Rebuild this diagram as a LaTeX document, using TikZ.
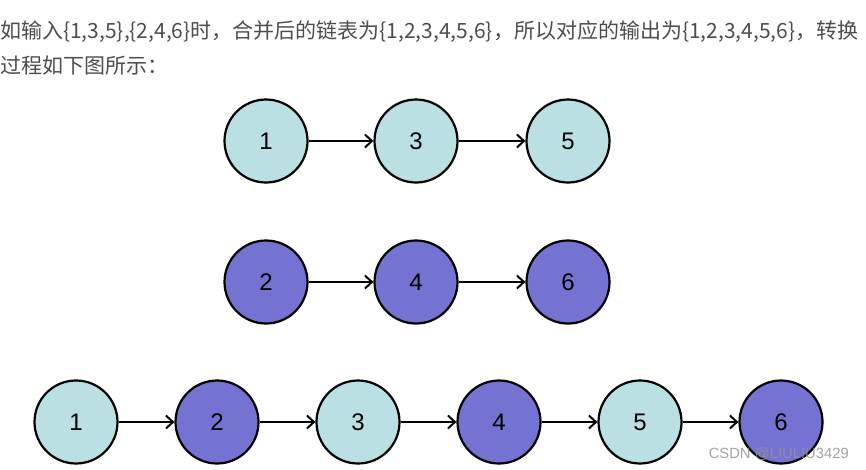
\documentclass[tikz,border=0pt]{standalone}
\usepackage{fontspec}
\setmainfont{Liberation Sans}
\newfontfamily\cjkfont{Noto Sans CJK SC}
\usetikzlibrary{arrows.meta}
\definecolor{lightc}{RGB}{186,224,227}
\definecolor{purp}{RGB}{117,115,209}
\definecolor{txtgray}{RGB}{77,77,77}
\tikzset{
  nodecirc/.style={circle,draw=black,line width=2.2pt,minimum size=83pt,inner sep=0pt,font=\fontsize{24}{28}\selectfont},
  cyanc/.style={nodecirc,fill=lightc},
  purc/.style={nodecirc,fill=purp},
  link/.style={line width=2pt,-{Straight Barb[length=7pt,width=13pt,line width=2pt]}},
  para/.style={anchor=base west,inner sep=0pt,text=txtgray,font=\cjkfont\fontsize{21}{24}\selectfont}
}
\begin{document}
\begin{tikzpicture}[x=1pt,y=-1pt]
\useasboundingbox (0,0) rectangle (866,469);
\node[para] (t1) at (0,38.5) {如输入\{1,3,5\},\{2,4,6\}时，合并后的链表为\{1,2,3,4,5,6\}，所以对应的输出为\{1,2,3,4,5,6\}，转换};
\node[para] (t2) at (0,73.5) {过程如下图所示：};
% row 1
\node[cyanc] (a1) at (266,141) {1};
\node[cyanc] (a3) at (416,141) {3};
\node[cyanc] (a5) at (568,141) {5};
\draw[link] (a1) -- (a3);
\draw[link] (a3) -- (a5);
% row 2
\node[purc] (b2) at (266,282) {2};
\node[purc] (b4) at (416,282) {4};
\node[purc] (b6) at (568,282) {6};
\draw[link] (b2) -- (b4);
\draw[link] (b4) -- (b6);
% row 3
\node[cyanc] (c1) at (76,422) {1};
\node[purc] (c2) at (217,422) {2};
\node[cyanc] (c3) at (358,422) {3};
\node[purc] (c4) at (499,422) {4};
\node[cyanc] (c5) at (640,422) {5};
\node[purc] (c6) at (781,422) {6};
\draw[link] (c1) -- (c2);
\draw[link] (c2) -- (c3);
\draw[link] (c3) -- (c4);
\draw[link] (c4) -- (c5);
\draw[link] (c5) -- (c6);
\node[anchor=base east,inner sep=0pt,text=gray!85,opacity=0.85,font=\fontsize{14.8}{17}\selectfont] (wm) at (849,458) {CSDN @LIULIU3429};
\end{tikzpicture}
\end{document}
